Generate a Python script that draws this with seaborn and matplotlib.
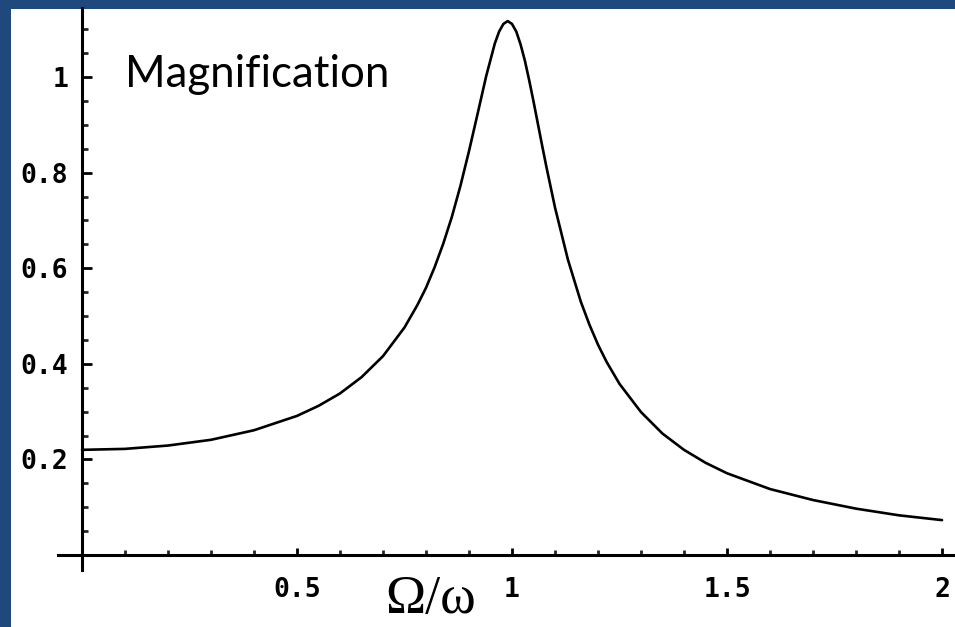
import numpy as np
import pandas as pd
import matplotlib
matplotlib.use("Agg")
import matplotlib.pyplot as plt
from matplotlib.patches import Rectangle
from matplotlib.ticker import FixedLocator
import seaborn as sns

# Frequency ratio Omega/omega and magnification
ratio = [0.0, 0.1, 0.2, 0.3, 0.4, 0.5, 0.55, 0.6, 0.65, 0.7, 0.75, 0.78, 0.8, 0.82,
         0.84, 0.86, 0.88, 0.9, 0.92, 0.94, 0.96, 0.97, 0.98, 0.99, 1.0, 1.01, 1.02,
         1.03, 1.04, 1.05, 1.06, 1.07, 1.08, 1.1, 1.13, 1.16, 1.18, 1.2, 1.22, 1.25,
         1.3, 1.35, 1.4, 1.45, 1.5, 1.6, 1.7, 1.8, 1.9, 2.0]
magnification = [0.220, 0.222, 0.229, 0.241, 0.261, 0.291, 0.312, 0.338, 0.372, 0.416,
                 0.476, 0.523, 0.559, 0.602, 0.651, 0.707, 0.772, 0.845, 0.923, 1.002,
                 1.070, 1.095, 1.111, 1.117, 1.111, 1.095, 1.068, 1.034, 0.993, 0.949,
                 0.903, 0.857, 0.812, 0.727, 0.618, 0.530, 0.482, 0.440, 0.404, 0.358,
                 0.299, 0.254, 0.220, 0.193, 0.171, 0.138, 0.115, 0.097, 0.083, 0.073]

x_major = [0.5, 1.0, 1.5, 2.0]
x_labels = ["0.5", "1", "1.5", "2"]
y_major = [0.2, 0.4, 0.6, 0.8, 1.0]
y_labels = ["0.2", "0.4", "0.6", "0.8", "1"]

title_text = "Magnification"
xlabel_text = "\u03a9/\u03c9"

sns.set_style("white")

W, H = 955, 627
fig = plt.figure(figsize=(W / 100, H / 100), dpi=100)
fig.patch.set_facecolor("#1F497D")
# white slide area (blue strips on left and top)
fig.patches.append(Rectangle((11 / W, 0), 1 - 11 / W, 1 - 9 / H, transform=fig.transFigure,
                             facecolor="white", edgecolor="none", zorder=-10))

ax_l, ax_r, ax_t, ax_b = 58, 955, 8, 570
ax = fig.add_axes([ax_l / W, 1 - ax_b / H, (ax_r - ax_l) / W, (ax_b - ax_t) / H])
ax.set_facecolor("none")
ax.set_zorder(5)

df = pd.DataFrame({"ratio": ratio, "magnification": magnification})
sns.lineplot(data=df, x="ratio", y="magnification", ax=ax, color="black",
             linewidth=1.9, sort=False)

x0px, x2px = 82, 942
xs = 2.0 / (x2px - x0px)
y0px, y1px = 555, 77
ys = 1.0 / (y0px - y1px)
ax.set_xlim((ax_l - x0px) * xs, (ax_r - x0px) * xs)
ax.set_ylim((y0px - ax_b) * ys, (y0px - ax_t) * ys)

for s in ["top", "right"]:
    ax.spines[s].set_visible(False)
ax.spines["left"].set_position(("data", 0))
ax.spines["bottom"].set_position(("data", 0))
for s in ["left", "bottom"]:
    ax.spines[s].set_visible(True)
    ax.spines[s].set_linewidth(2.2)
    ax.spines[s].set_color("black")

ax.xaxis.set_major_locator(FixedLocator(x_major))
ax.set_xticklabels(x_labels)
ax.xaxis.set_minor_locator(FixedLocator([i / 10 for i in range(1, 20) if i % 5 != 0]))
ax.yaxis.set_major_locator(FixedLocator(y_major))
ax.set_yticklabels(y_labels)
ax.yaxis.set_minor_locator(FixedLocator([i / 20 for i in range(1, 23) if i % 4 != 0]))

mono = ["DejaVu Sans Mono"]
ax.tick_params(axis="x", which="major", direction="in", length=5, width=2, pad=16,
               labelsize=19, colors="black", bottom=True)
ax.tick_params(axis="x", which="minor", direction="in", length=3.5, width=2, bottom=True)
ax.tick_params(axis="y", which="major", direction="in", length=7, width=2, pad=10,
               labelsize=19, colors="black", left=True)
ax.tick_params(axis="y", which="minor", direction="in", length=4, width=2, left=True)
for lab in ax.get_xticklabels() + ax.get_yticklabels():
    lab.set_family(mono)
    lab.set_fontweight("bold")

ax.set_xlabel("")
ax.set_ylabel("")

fig.text(125 / W, 1 - 87 / H, title_text, fontsize=31.5, family=["Lato", "DejaVu Sans"],
         ha="left", va="baseline", color="black", zorder=6)
fig.text(431 / W, 1 - 613 / H, xlabel_text, fontsize=39,
         family=["Liberation Serif", "DejaVu Serif"], ha="center", va="baseline",
         color="black", zorder=6)

fig.savefig("out.png", dpi=100)
